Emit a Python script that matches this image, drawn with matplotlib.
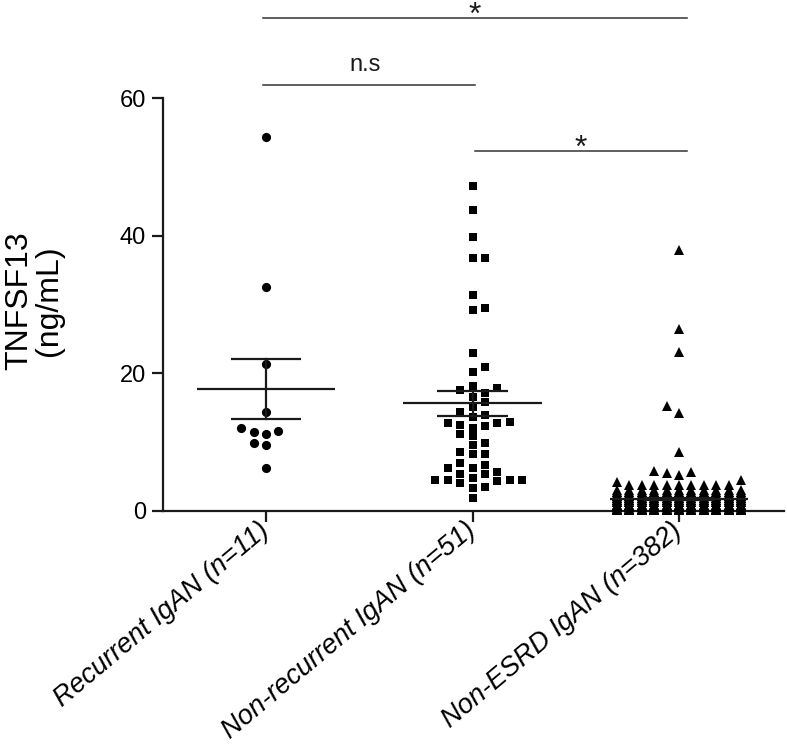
import numpy as np
import matplotlib
matplotlib.use('Agg')
import matplotlib.pyplot as plt

plt.rcParams['font.family'] = ['Liberation Sans', 'DejaVu Sans']

# ---------------- data ----------------
categories = ['Recurrent IgAN (n=11)', 'Non-recurrent IgAN (n=51)', 'Non-ESRD IgAN (n=382)']

recurrent = [54.4, 32.6, 21.3, 14.4, 11.4, 11.6, 12.0, 11.2, 9.9, 9.6, 6.2]

non_recurrent = [47.3, 43.8, 39.8, 36.7, 36.8, 31.4, 29.2, 29.5, 23.0, 20.2, 20.9,
                 18.1, 17.5, 16.6, 17.1, 17.8, 15.8, 15.1, 14.3, 13.7, 12.5,
                 12.8, 12.1, 12.9, 13.9, 12.3, 12.8, 10.8, 11.1, 9.9, 9.5,
                 8.2, 8.6, 8.2, 6.6, 6.2, 6.9, 6.2, 5.7, 5.3, 4.5, 4.4,
                 4.3, 4.1, 4.4, 3.3, 4.7, 5.4, 4.4, 3.5, 1.8]

non_esrd_high = [38.0, 26.5, 23.1, 15.3, 14.2, 8.5, 5.8, 5.7, 5.5, 5.2, 4.5, 4.2,
                 3.7, 3.7, 3.7, 3.7, 3.7, 3.7, 3.7, 3.7, 3.7]
non_esrd_low_levels = [3.0, 2.7, 2.4, 2.1, 1.8, 1.5, 1.2, 0.9, 0.6, 0.3, 0.1]
non_esrd_low_counts = [11, 22, 22, 33, 33, 33, 44, 44, 44, 44, 31]

means = [17.7, 15.6, 1.7]
sems = [4.35, 1.8, 0.2]

yticks = [0, 20, 40, 60]
comparisons = [(0, 2, '*'), (0, 1, 'n.s'), (1, 2, '*')]

# --------------- layout ---------------
W, H = 787, 752
fig = plt.figure(figsize=(W / 100, H / 100), dpi=100)
ax = fig.add_axes([162.7 / W, (H - 510.7) / H, (784 - 162.7) / W, (510.7 - 98.3) / H])
ax.set_xlim(-0.5, 2.508)
ax.set_ylim(0, 60)

non_esrd = list(non_esrd_high) + list(np.repeat(non_esrd_low_levels, non_esrd_low_counts))
groups = [recurrent, non_recurrent, non_esrd]
markers = ['o', 's', '^']
msizes = [6.6, 6.0, 7.0]


def swarm_offsets(vals, sep, max_cols, first=1):
    vals = np.asarray(vals, float)
    cand = [0]
    for k in range(1, max_cols // 2 + 1):
        cand += [first * k, -first * k]
    placed = {}
    offs = np.zeros(len(vals))
    for i in np.argsort(vals, kind='stable'):
        v = vals[i]
        chosen = None
        best_cnt = None
        for c in cand:
            ys = placed.get(c, [])
            cnt = sum(1 for y in ys if abs(v - y) < sep)
            if cnt == 0:
                chosen = c
                break
            if best_cnt is None or cnt < best_cnt:
                best_cnt = cnt
                chosen = c
        placed.setdefault(chosen, []).append(v)
        offs[i] = chosen
    return offs


col_dx = 12.4 / 206.5
sep_y = 8.6 / 6.873
firsts = [-1, 1, -1]
for gi, vals in enumerate(groups):
    offs = swarm_offsets(vals, sep_y, 11, firsts[gi])
    ax.plot(gi + offs * col_dx, vals, linestyle='none', marker=markers[gi],
            markersize=msizes[gi], color='black', markeredgewidth=0,
            clip_on=False, zorder=3)

for gi, (m, s) in enumerate(zip(means, sems)):
    ax.plot([gi - 0.335, gi + 0.335], [m, m], color='#1a1a1a', lw=1.6, zorder=4,
            solid_capstyle='butt')
    ax.plot([gi, gi], [m - s, m + s], color='#1a1a1a', lw=1.6, zorder=4)
    for yy in (m - s, m + s):
        ax.plot([gi - 0.17, gi + 0.17], [yy, yy], color='#1a1a1a', lw=1.6, zorder=4,
                solid_capstyle='butt')

# significance bars
bar_y = {(0, 2): 71.7, (0, 1): 61.9, (1, 2): 52.3}
for a, b, lab in comparisons:
    y = bar_y[(a, b)]
    x0 = a - 0.012 if a == 0 else a + 0.013
    x1 = b + 0.037 if b == 2 else b + 0.013
    ax.plot([x0, x1], [y, y], color='#333333', lw=1.1, clip_on=False)
    if lab == '*':
        ax.text((x0 + x1) / 2, y + 0.35, lab, ha='center', va='center', fontsize=23,
                color='#1a1a1a', clip_on=False)
    else:
        ax.text(0.48, y + 3.0, lab, ha='center', va='center', fontsize=17,
                color='#1a1a1a', clip_on=False)

# axes styling
for sp in ('top', 'right'):
    ax.spines[sp].set_visible(False)
for sp in ('left', 'bottom'):
    ax.spines[sp].set_linewidth(1.6)
    ax.spines[sp].set_color('#1a1a1a')
ax.set_yticks(yticks)
ax.set_yticklabels([str(t) for t in yticks], fontsize=17)
ax.set_xticks(range(len(categories)))
ax.set_xticklabels(categories, fontsize=19.5, rotation=40, ha='right', va='center',
                   rotation_mode='anchor', style='italic')
ax.tick_params(axis='both', length=8, width=1.6, color='#1a1a1a', direction='out',
               pad=4)
ax.tick_params(axis='x', pad=4)

fig.text(34 / W, (H - 301) / H, 'TNFSF13\n(ng/mL)', rotation=90, ha='center',
         va='center', multialignment='center', fontsize=23, linespacing=1.0)

fig.savefig('out.png', dpi=100)
